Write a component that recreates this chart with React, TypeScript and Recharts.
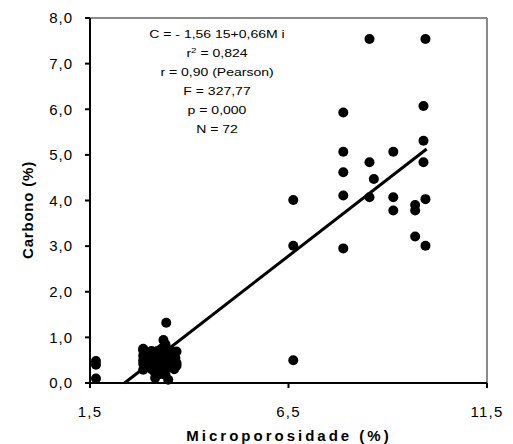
import { Label, ReferenceLine, Scatter, ScatterChart, XAxis, YAxis } from "recharts";

// Microporosidade (%) and Carbono (%) pairs
const upperMicro = [8.54, 9.95, 9.9, 7.88, 9.9, 7.88, 9.14, 8.54, 9.9, 7.88, 8.65, 6.62, 7.88, 8.54, 9.14, 9.95, 9.69, 9.14, 9.69, 9.69, 6.62, 9.95, 7.88, 6.62];
const upperCarbono = [7.54, 7.54, 6.07, 5.93, 5.31, 5.07, 5.07, 4.84, 4.84, 4.62, 4.47, 4.01, 4.11, 4.07, 4.07, 4.03, 3.9, 3.78, 3.78, 3.21, 3.01, 3.01, 2.95, 0.5];

const edgeMicro = [1.65, 1.65, 1.65];
const edgeCarbono = [0.48, 0.4, 0.1];

const clusterMicro = [
  2.84, 2.84, 2.84, 2.84, 2.84, 2.84, 2.9, 2.95, 3.0, 3.0, 3.05, 3.1, 3.14, 3.15, 3.15,
  3.2, 3.2, 3.25, 3.25, 3.3, 3.3, 3.35, 3.35, 3.35, 3.38, 3.4, 3.42, 3.42, 3.45, 3.47,
  3.5, 3.5, 3.52, 3.55, 3.58, 3.6, 3.62, 3.65, 3.68, 3.68, 3.68, 3.05, 3.12, 3.28, 3.4,
];
const clusterCarbono = [
  0.75, 0.72, 0.6, 0.5, 0.42, 0.29, 0.35, 0.55, 0.45, 0.65, 0.3, 0.5, 0.11, 0.4, 0.62,
  0.7, 0.33, 0.55, 0.45, 0.75, 0.38, 0.94, 0.6, 0.5, 0.3, 0.85, 1.32, 0.68, 0.45, 0.07,
  0.6, 0.35, 0.72, 0.5, 0.4, 0.65, 0.3, 0.55, 0.69, 0.44, 0.38, 0.7, 0.25, 0.2, 0.18,
];

// fitted line ends (C = -1,5615 + 0,66 Mi)
const fitMicro = [2.37, 9.98];
const fitCarbono = [0, 5.13];

const xTicks = [1.5, 6.5, 11.5];
const yTicks = [0, 1, 2, 3, 4, 5, 6, 7, 8];

const statsLines = ["C = - 1,56 15+0,66M i", "r2 = 0,824", "r = 0,90 (Pearson)", "F = 327,77", "p = 0,000", "N = 72"];

const toPoints = (xs: number[], ys: number[]) => xs.map((x, i) => ({ x, y: ys[i] }));
const points = [
  ...toPoints(upperMicro, upperCarbono),
  ...toPoints(edgeMicro, edgeCarbono),
  ...toPoints(clusterMicro, clusterCarbono),
];
const fitLine = toPoints(fitMicro, fitCarbono);

const fmt = (v: number) => v.toFixed(1).replace(".", ",");
const FONT = "'Liberation Sans', Arial, sans-serif";

const Dot = (p: any) => <circle cx={p.cx} cy={p.cy} r={5} fill="#000" />;
const NoDot = () => <g />;

export default function App() {
  return (
    <div style={{ position: "absolute", left: 0, top: 0, width: 513, height: 444, background: "#fff" }}>
      <ScatterChart width={513} height={444} margin={{ top: 18, right: 26, left: 0, bottom: 0 }}>
        <XAxis
          type="number"
          dataKey="x"
          domain={[1.5, 11.5]}
          ticks={xTicks}
          tickFormatter={fmt}
          height={61}
          tickSize={5}
          tickMargin={18}
          axisLine={{ stroke: "#000", strokeWidth: 2 }}
          tickLine={{ stroke: "#000", strokeWidth: 2 }}
          tick={{ fill: "#000", fontSize: 15, fontFamily: FONT, letterSpacing: 1.2 }}
        >
          <Label
            content={() => (
              <text x={289} y={441} textAnchor="middle" fontFamily={FONT} fontSize={15} fontWeight="bold" letterSpacing={3} fill="#000">
                Microporosidade (%)
              </text>
            )}
          />
        </XAxis>
        <YAxis
          type="number"
          dataKey="y"
          domain={[0, 8]}
          ticks={yTicks}
          tickFormatter={fmt}
          width={90}
          tickSize={5}
          tickMargin={12}
          axisLine={{ stroke: "#000", strokeWidth: 2 }}
          tickLine={{ stroke: "#000", strokeWidth: 2 }}
          tick={{ fill: "#000", fontSize: 15, fontFamily: FONT, letterSpacing: 1 }}
        >
          <Label
            content={() => (
              <text x={33} y={210} transform="rotate(-90 33 210)" textAnchor="middle" fontFamily={FONT} fontSize={15} fontWeight="bold" letterSpacing={0.8} fill="#000">
                Carbono (%)
              </text>
            )}
          />
        </YAxis>
        <ReferenceLine y={8} stroke="#8a8a8a" strokeWidth={2} />
        <ReferenceLine x={11.5} stroke="#8a8a8a" strokeWidth={2} />
        <Scatter data={points} shape={Dot} isAnimationActive={false} />
        <Scatter data={fitLine} line={{ stroke: "#000", strokeWidth: 3 }} lineType="joint" shape={NoDot} isAnimationActive={false} />
      </ScatterChart>
      <div
        style={{
          position: "absolute",
          left: 117,
          top: 25,
          width: 200,
          textAlign: "center",
          fontFamily: FONT,
          fontSize: 10,
          lineHeight: "19px",
          color: "#000",
          transform: "scaleX(1.4)",
          transformOrigin: "center",
          whiteSpace: "nowrap",
        }}
      >
        {statsLines.map((line) =>
          line.startsWith("r2") ? (
            <div key={line}>
              r<sup style={{ fontSize: 7, lineHeight: 0 }}>2</sup> = 0,824
            </div>
          ) : (
            <div key={line}>{line}</div>
          ),
        )}
      </div>
    </div>
  );
}
